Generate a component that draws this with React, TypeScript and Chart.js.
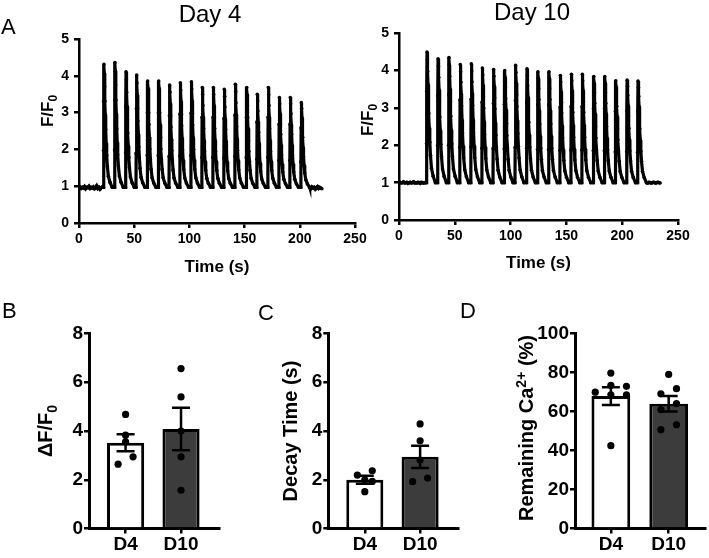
import React, { useEffect, useRef } from 'react';
import { Chart, registerables } from 'chart.js';

Chart.register(...registerables);

const FONT = '"Liberation Sans", Arial, Helvetica, sans-serif';

// ---------------- Panel A : Ca2+ transients ----------------
const timeTicks = [0, 50, 100, 150, 200, 250];
const ratioTicks = [0, 1, 2, 3, 4, 5];

// shape of one transient (seconds from peak, fraction of peak amplitude)
const spikeOffsets = [-0.6, -0.4, -0.2, 0, 0.3, 0.6, 0.9, 1.2, 1.6, 2.0, 2.5, 3.1, 4.0, 5.5, 7.5];
const day4SpikeShape = [0, 0.3, 0.7, 1, 0.93, 0.82, 0.7, 0.59, 0.47, 0.36, 0.26, 0.17, 0.09, 0.04, 0];
const day10SpikeShape = [0, 0.3, 0.7, 1, 0.94, 0.85, 0.75, 0.65, 0.53, 0.42, 0.31, 0.21, 0.11, 0.05, 0];

const day4PeakTimes = [22.6, 32.6, 42.6, 52.2, 62.2, 72.2, 82.1, 91.8, 101.8, 111.7, 121.7, 131.6, 141.6, 151.9, 161.5, 171.5, 181.5, 191.4, 201.4];
const day4PeakValues = [4.31, 4.36, 4.11, 4.02, 3.86, 3.86, 3.75, 3.81, 3.84, 3.68, 3.68, 3.63, 3.77, 3.68, 3.5, 3.68, 3.41, 3.41, 3.27];
const day4Rest = 0.97;
const day4PreValues = [0.96, 0.98, 0.94, 0.97, 0.95, 0.99, 0.93, 0.97, 0.96, 1.0, 0.94, 0.97, 0.95, 0.98, 0.93, 0.96, 1.01, 0.94, 0.97, 0.92, 0.96, 0.98];
const day4PostStart = 209;
const day4PostValues = [0.96, 0.93, 0.98, 0.95, 0.97, 0.92, 0.96, 0.99, 0.94, 0.97, 0.95, 0.93];

const day10PeakTimes = [25.1, 35.0, 44.8, 54.9, 64.8, 74.7, 84.8, 94.7, 104.5, 114.7, 124.5, 134.4, 144.6, 154.5, 164.3, 174.5, 184.4, 194.2, 204.4, 214.2];
const day10PeakValues = [4.5, 4.32, 4.35, 4.16, 4.18, 4.07, 4.03, 4.0, 4.14, 4.05, 3.97, 3.97, 3.87, 3.9, 3.9, 3.84, 3.84, 3.73, 3.75, 3.72];
const day10Rest = 1.0;
const day10PreValues = [1.0, 1.01, 0.99, 1.0, 1.02, 0.99, 1.0, 1.01, 0.98, 1.0, 1.01, 0.99, 1.0, 1.02, 0.99, 1.0, 0.99, 1.01, 1.0, 0.98, 1.01, 1.0, 0.99, 1.0, 1.0];
const day10PostStart = 222;
const day10PostValues = [1.0, 0.99, 1.01, 1.0, 0.99, 1.0, 1.01, 1.0, 0.99, 1.0, 1.01, 1.0, 0.99];

// ---------------- Panels B-D : summary bars ----------------
const groups = ['D4', 'D10'];

const dffTicks = [0, 2, 4, 6, 8];
const dffMeans = [3.52, 4.08];
const dffSems = [0.35, 0.87];
const dffD4 = [4.68, 3.83, 3.55, 2.94, 2.64];
const dffD10 = [6.56, 5.4, 4.0, 2.94, 1.57];
const dffD4Lanes = [0, 0, 0, 1, -1];
const dffD10Lanes = [0, 0, 0, 0, 0];

const decayTicks = [0, 2, 4, 6, 8];
const decayMeans = [2.0, 2.94];
const decaySems = [0.16, 0.46];
const decayD4 = [2.37, 2.19, 2.0, 1.93, 1.51];
const decayD10 = [4.29, 3.6, 2.81, 2.07, 1.92];
const decayD4Lanes = [1, -1, 0, 1, 0];
const decayD10Lanes = [0, 0, 0, 1, -1];

const remainTicks = [0, 20, 40, 60, 80, 100];
const remainMeans = [67.9, 64.0];
const remainSems = [4.55, 3.95];
const remainD4 = [79.7, 73.4, 72.9, 69.9, 68.6, 68.6, 42.5];
const remainD10 = [79.0, 71.7, 69.1, 64.0, 61.0, 53.2, 50.7];
const remainD4Lanes = [0, 0, 2, -2, 0, 2, 0];
const remainD10Lanes = [0, 1, -1, 1, -1, 1, -1];

const LANE = 0.135;

type Part = { text: string; sub?: boolean; sup?: boolean };

function makeYTitle(parts: Part[], size: number, dx: number, dy: number) {
  return {
    id: 'richYTitle',
    afterDraw(chart: any) {
      const { ctx, chartArea } = chart;
      const small = Math.round(size * 0.68);
      const fontOf = (p: Part) => `bold ${p.sub || p.sup ? small : size}px ${FONT}`;
      ctx.save();
      let total = 0;
      parts.forEach((p) => {
        ctx.font = fontOf(p);
        total += ctx.measureText(p.text).width;
      });
      ctx.translate(chartArea.left - dx, (chartArea.top + chartArea.bottom) / 2 + dy);
      ctx.rotate(-Math.PI / 2);
      ctx.fillStyle = '#000';
      ctx.textBaseline = 'alphabetic';
      ctx.textAlign = 'left';
      let x = -total / 2;
      const base = size * 0.36;
      parts.forEach((p) => {
        ctx.font = fontOf(p);
        const off = p.sub ? size * 0.22 : p.sup ? -size * 0.38 : 0;
        ctx.fillText(p.text, x, base + off);
        x += ctx.measureText(p.text).width;
      });
      ctx.restore();
    },
  };
}

function makeErrorBars(means: number[], sems: number[], cap: number, width: number) {
  return {
    id: 'errorBars',
    afterDatasetsDraw(chart: any) {
      const xs = chart.scales.x;
      const ys = chart.scales.y;
      const ctx = chart.ctx;
      ctx.save();
      ctx.strokeStyle = '#000';
      ctx.lineWidth = width;
      means.forEach((m, i) => {
        const px = xs.getPixelForValue(i + 1);
        const top = ys.getPixelForValue(m + sems[i]);
        const bot = ys.getPixelForValue(m - sems[i]);
        ctx.beginPath();
        ctx.moveTo(px, top);
        ctx.lineTo(px, bot);
        ctx.moveTo(px - cap / 2, top);
        ctx.lineTo(px + cap / 2, top);
        ctx.moveTo(px - cap / 2, bot);
        ctx.lineTo(px + cap / 2, bot);
        ctx.stroke();
      });
      ctx.restore();
    },
  };
}

function buildTrace(
  preValues: number[],
  peakTimes: number[],
  peakValues: number[],
  rest: number,
  shape: number[],
  postStart: number,
  postValues: number[]
) {
  const pts: { x: number; y: number }[] = preValues.map((v, i) => ({ x: i, y: v }));
  peakTimes.forEach((t, k) => {
    spikeOffsets.forEach((o, j) => pts.push({ x: t + o, y: rest + (peakValues[k] - rest) * shape[j] }));
  });
  postValues.forEach((v, i) => pts.push({ x: postStart + i, y: v }));
  return pts;
}

const tickFont = (size: number) => ({ family: FONT, size, weight: 'bold' as const });

function lineConfig(points: any[], dims: { yW: number; xH: number; padTop: number; padRight: number; dx: number; dy: number }) {
  return {
    type: 'line',
    data: {
      datasets: [
        {
          data: points,
          borderColor: '#000',
          backgroundColor: '#000',
          borderWidth: 3.2,
          pointRadius: 1.8,
          pointBorderWidth: 0,
          pointHoverRadius: 0,
          tension: 0,
        },
      ],
    },
    options: {
      responsive: false,
      animation: false,
      events: [],
      layout: { padding: { left: 0, top: dims.padTop, right: dims.padRight, bottom: 0 } },
      plugins: { legend: { display: false }, tooltip: { enabled: false } },
      scales: {
        x: {
          type: 'linear',
          min: 0,
          max: 250,
          afterBuildTicks: (s: any) => {
            s.ticks = timeTicks.map((v) => ({ value: v }));
          },
          afterFit: (s: any) => {
            s.height = dims.xH;
          },
          grid: { display: true, drawOnChartArea: false, drawTicks: true, tickLength: 5, tickWidth: 2.5, tickColor: '#000', lineWidth: 2.5, color: '#000' },
          border: { display: true, color: '#000', width: 2.5 },
          ticks: { color: '#000', font: tickFont(14), padding: 3, maxRotation: 0, autoSkip: false },
          title: { display: true, text: 'Time (s)', color: '#000', font: tickFont(17), padding: 0 },
        },
        y: {
          type: 'linear',
          min: 0,
          max: 5,
          afterBuildTicks: (s: any) => {
            s.ticks = ratioTicks.map((v) => ({ value: v }));
          },
          afterFit: (s: any) => {
            s.width = dims.yW;
          },
          grid: { display: true, drawOnChartArea: false, drawTicks: true, tickLength: 5, tickWidth: 2.5, tickColor: '#000', lineWidth: 2.5, color: '#000' },
          border: { display: true, color: '#000', width: 2.5 },
          ticks: { color: '#000', font: tickFont(14), padding: 5 },
        },
      },
    },
    plugins: [makeYTitle([{ text: 'F/F' }, { text: '0', sub: true }], 17, dims.dx, dims.dy)],
  };
}

function barConfig(p: {
  means: number[];
  sems: number[];
  d4: number[];
  d10: number[];
  d4Lanes: number[];
  d10Lanes: number[];
  yTicks: number[];
  xMin: number;
  xMax: number;
  yW: number;
  xH: number;
  padTop: number;
  padRight: number;
  title: Part[];
  dx: number;
  dy: number;
}) {
  const pts = [
    ...p.d4.map((v, i) => ({ x: 1 + p.d4Lanes[i] * LANE, y: v })),
    ...p.d10.map((v, i) => ({ x: 2 + p.d10Lanes[i] * LANE, y: v })),
  ];
  return {
    type: 'bar',
    data: {
      datasets: [
        {
          type: 'bar',
          order: 2,
          data: p.means.map((m, i) => ({ x: i + 1, y: m })),
          backgroundColor: ['#ffffff', '#3c3c3c'],
          borderColor: '#000',
          borderWidth: 3,
          barPercentage: 0.67,
          categoryPercentage: 1,
        },
        {
          type: 'scatter',
          order: 1,
          data: pts,
          backgroundColor: '#000',
          borderWidth: 0,
          pointRadius: 3.6,
          pointHoverRadius: 0,
          showLine: false,
        },
      ],
    },
    options: {
      responsive: false,
      animation: false,
      events: [],
      layout: { padding: { left: 0, top: p.padTop, right: p.padRight, bottom: 0 } },
      plugins: { legend: { display: false }, tooltip: { enabled: false } },
      scales: {
        x: {
          type: 'linear',
          offset: false,
          min: p.xMin,
          max: p.xMax,
          afterBuildTicks: (s: any) => {
            s.ticks = groups.map((_, i) => ({ value: i + 1 }));
          },
          afterFit: (s: any) => {
            s.height = p.xH;
          },
          grid: { display: true, offset: false, drawOnChartArea: false, drawTicks: true, tickLength: 5, tickWidth: 2.5, tickColor: '#000', lineWidth: 2.5, color: '#000' },
          border: { display: true, color: '#000', width: 3 },
          ticks: {
            color: '#000',
            font: tickFont(19),
            padding: 0,
            maxRotation: 0,
            autoSkip: false,
            callback: (_v: any, i: number) => groups[i],
          },
        },
        y: {
          type: 'linear',
          min: p.yTicks[0],
          max: p.yTicks[p.yTicks.length - 1],
          afterBuildTicks: (s: any) => {
            s.ticks = p.yTicks.map((v) => ({ value: v }));
          },
          afterFit: (s: any) => {
            s.width = p.yW;
          },
          grid: { display: true, drawOnChartArea: false, drawTicks: true, tickLength: 5, tickWidth: 2.5, tickColor: '#000', lineWidth: 2.5, color: '#000' },
          border: { display: true, color: '#000', width: 3 },
          ticks: { color: '#000', font: tickFont(19), padding: 1 },
        },
      },
    },
    plugins: [makeErrorBars(p.means, p.sems, 18, 2.5), makeYTitle(p.title, 20, p.dx, p.dy)],
  };
}

function ChartCanvas({ left, top, width, height, make }: { left: number; top: number; width: number; height: number; make: () => any }) {
  const ref = useRef<HTMLCanvasElement | null>(null);
  useEffect(() => {
    const chart = new Chart(ref.current as HTMLCanvasElement, make());
    return () => chart.destroy();
  }, []);
  return (
    <canvas
      ref={ref}
      width={width}
      height={height}
      style={{ position: 'absolute', left, top, width, height, display: 'block' }}
    />
  );
}

function Text({ text, left, top, size, center }: { text: string; left: number; top: number; size: number; center?: boolean }) {
  return (
    <div
      style={{
        position: 'absolute',
        left,
        top,
        fontSize: size,
        lineHeight: `${size}px`,
        fontFamily: FONT,
        color: '#000',
        whiteSpace: 'nowrap',
        transform: center ? 'translateX(-50%)' : undefined,
      }}
    >
      {text}
    </div>
  );
}

export default function App() {
  const day4 = () =>
    lineConfig(buildTrace(day4PreValues, day4PeakTimes, day4PeakValues, day4Rest, day4SpikeShape, day4PostStart, day4PostValues), {
      yW: 79,
      xH: 55,
      padTop: 39,
      padRight: 15,
      dx: 32,
      dy: -20,
    });
  const day10 = () =>
    lineConfig(buildTrace(day10PreValues, day10PeakTimes, day10PeakValues, day10Rest, day10SpikeShape, day10PostStart, day10PostValues), {
      yW: 69,
      xH: 54,
      padTop: 33.3,
      padRight: 31,
      dx: 32.3,
      dy: -6.7,
    });
  const panelB = () =>
    barConfig({
      means: dffMeans, sems: dffSems, d4: dffD4, d10: dffD10, d4Lanes: dffD4Lanes, d10Lanes: dffD10Lanes,
      yTicks: dffTicks, xMin: 0.34, xMax: 2.685, yW: 89, xH: 29.5, padTop: 33.5, padRight: 6,
      title: [{ text: 'ΔF/F' }, { text: '0', sub: true }], dx: 44, dy: 0,
    });
  const panelC = () =>
    barConfig({
      means: decayMeans, sems: decaySems, d4: decayD4, d10: decayD10, d4Lanes: decayD4Lanes, d10Lanes: decayD10Lanes,
      yTicks: decayTicks, xMin: 0.34, xMax: 2.685, yW: 93.3, xH: 29.5, padTop: 33.5, padRight: 12,
      title: [{ text: 'Decay Time (s)' }], dx: 38.3, dy: 0,
    });
  const panelD = () =>
    barConfig({
      means: remainMeans, sems: remainSems, d4: remainD4, d10: remainD10, d4Lanes: remainD4Lanes, d10Lanes: remainD10Lanes,
      yTicks: remainTicks, xMin: 0.38, xMax: 2.635, yW: 105, xH: 29.5, padTop: 33.5, padRight: 1,
      title: [{ text: 'Remaining Ca' }, { text: '2+', sup: true }, { text: ' (%)' }], dx: 49, dy: -3,
    });

  return (
    <div style={{ position: 'fixed', left: 0, top: 0, width: 709, height: 558, background: '#fff', overflow: 'hidden' }}>
      <ChartCanvas left={0} top={0} width={370} height={278} make={day4} />
      <ChartCanvas left={330} top={0} width={379} height={274} make={day10} />
      <ChartCanvas left={0} top={300} width={225} height={258} make={panelB} />
      <ChartCanvas left={235} top={300} width={235} height={258} make={panelC} />
      <ChartCanvas left={470} top={300} width={239} height={258} make={panelD} />
      <Text text="Day 4" left={210} top={2} size={24} center />
      <Text text="Day 10" left={532} top={0} size={24} center />
      <Text text="A" left={1} top={16} size={22} />
      <Text text="B" left={2} top={300} size={22} />
      <Text text="C" left={258} top={302} size={22} />
      <Text text="D" left={460} top={300} size={22} />
    </div>
  );
}
